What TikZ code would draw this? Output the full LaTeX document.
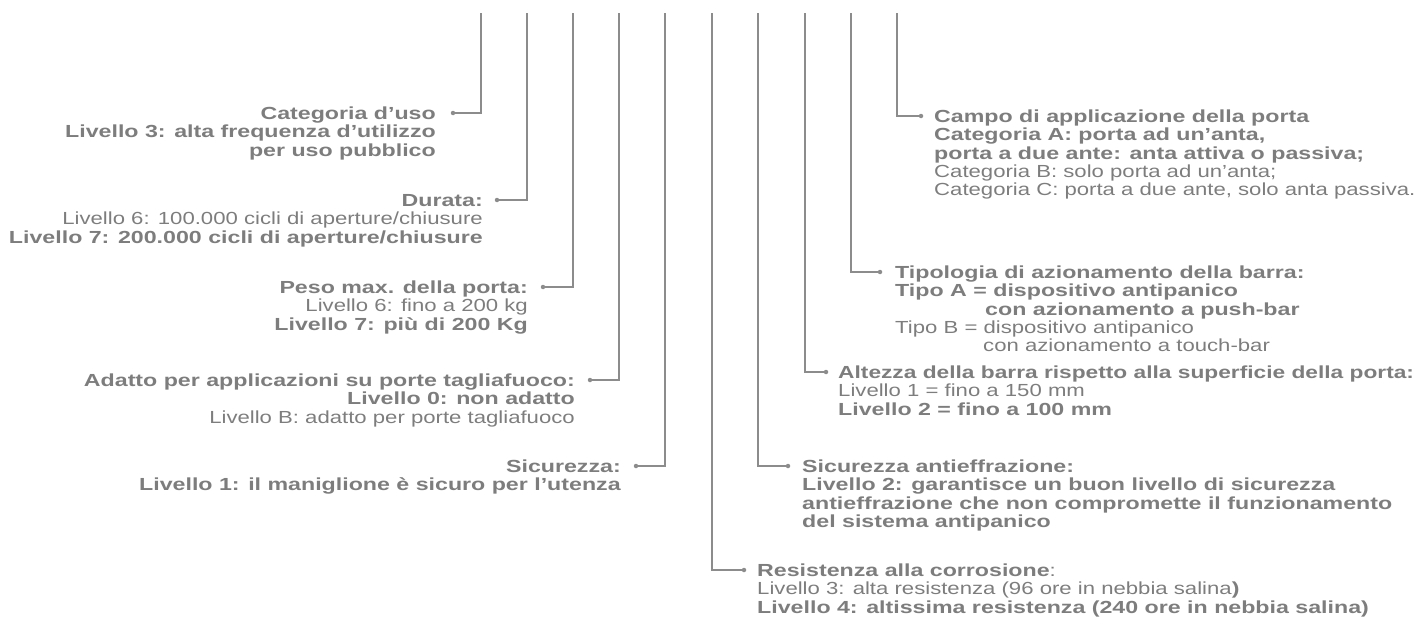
\documentclass[tikz,border=0pt]{standalone}
\usepackage{graphicx}
\usepackage{fontspec}
\setmainfont{Liberation Sans}[UprightFeatures={FakeStretch=1.265},BoldFeatures={FakeStretch=1.325}]
\definecolor{tgray}{RGB}{125,125,125}
\definecolor{lgray}{RGB}{140,140,140}
\begin{document}
\begin{tikzpicture}[x=1pt,y=-1pt,
  txt/.style={inner sep=0pt, font=\fontsize{17.5}{18.4}\selectfont, text=tgray},
  ltxt/.style={txt, align=right, anchor=base east},
  rtxt/.style={txt, align=left, anchor=base west},
  dot/.style={circle, fill=lgray, inner sep=0pt, minimum size=4.5pt},
  conn/.style={draw=lgray, line width=1.4pt}]
\useasboundingbox (0,0) rectangle (1421,618);
% top coordinates
\coordinate (t1) at (481,13);
\coordinate (t2) at (527,13);
\coordinate (t3) at (573,13);
\coordinate (t4) at (619,13);
\coordinate (t5) at (665,13);
\coordinate (t6) at (712,13);
\coordinate (t7) at (758,13);
\coordinate (t8) at (805,13);
\coordinate (t9) at (851,13);
\coordinate (t10) at (897,13);
% left side (anchor = baseline of last line)
\node[ltxt] (cat) at (436,156.1) {\textbf{Categoria d’uso}\\\textbf{Livello 3: alta frequenza d’utilizzo}\\\textbf{per uso pubblico}};
\node[dot] (dcat) at (453,113) {};
\node[ltxt] (dur) at (483,243.1) {\textbf{Durata:}\\Livello 6: 100.000 cicli di aperture/chiusure\\\textbf{Livello 7: 200.000 cicli di aperture/chiusure}};
\node[dot] (ddur) at (497,200) {};
\node[ltxt] (peso) at (528,330.1) {\textbf{Peso max. della porta:}\\Livello 6: fino a 200 kg\\\textbf{Livello 7: più di 200 Kg}};
\node[dot] (dpeso) at (543,287) {};
\node[ltxt] (adat) at (575,423.1) {\textbf{Adatto per applicazioni su porte tagliafuoco:}\\\textbf{Livello 0: non adatto}\\Livello B: adatto per porte tagliafuoco};
\node[dot] (dadat) at (590,380) {};
\node[ltxt] (sic) at (621,490.7) {\textbf{Sicurezza:}\\\textbf{Livello 1: il maniglione è sicuro per l’utenza}};
\node[dot] (dsic) at (636,466) {};
% right side
\node[dot] (dres) at (744,570) {};
\node[rtxt] (res) at (757,613.1) {\textbf{Resistenza alla corrosione}:\\Livello 3: alta resistenza (96 ore in nebbia salina\textbf{)}\\\textbf{Livello 4: altissima resistenza (240 ore in nebbia salina)}};
\node[dot] (dsica) at (788,466) {};
\node[rtxt] (sica) at (802,527.5) {\textbf{Sicurezza antieffrazione:}\\\textbf{Livello 2: garantisce un buon livello di sicurezza}\\\textbf{antieffrazione che non compromette il funzionamento}\\\textbf{del sistema antipanico}};
\node[dot] (dalt) at (826,372) {};
\node[rtxt] (alt) at (838,415.1) {\scalebox{0.98}[1]{\textbf{Altezza della barra rispetto alla superficie della porta:}}\\Livello 1 = fino a 150 mm\\\textbf{Livello 2 = fino a 100 mm}};
\node[dot] (dtipo) at (880,272) {};
\node[rtxt] (tipo) at (895,351.9) {\textbf{Tipologia di azionamento della barra:}\\\textbf{Tipo A = dispositivo antipanico}\\\hspace*{90pt}\textbf{con azionamento a push-bar}\\Tipo B = dispositivo antipanico\\\hspace*{88pt}con azionamento a touch-bar};
\node[dot] (dcampo) at (921,116) {};
\node[rtxt] (campo) at (934,195.9) {\textbf{Campo di applicazione della porta}\\\textbf{Categoria A: porta ad un’anta,}\\\textbf{porta a due ante: anta attiva o passiva;}\\Categoria B: solo porta ad un’anta;\\Categoria C: porta a due ante, solo anta passiva.};
% connectors
\draw[conn] (dcat) -| (t1);
\draw[conn] (ddur) -| (t2);
\draw[conn] (dpeso) -| (t3);
\draw[conn] (dadat) -| (t4);
\draw[conn] (dsic) -| (t5);
\draw[conn] (dres) -| (t6);
\draw[conn] (dsica) -| (t7);
\draw[conn] (dalt) -| (t8);
\draw[conn] (dtipo) -| (t9);
\draw[conn] (dcampo) -| (t10);
\end{tikzpicture}
\end{document}
